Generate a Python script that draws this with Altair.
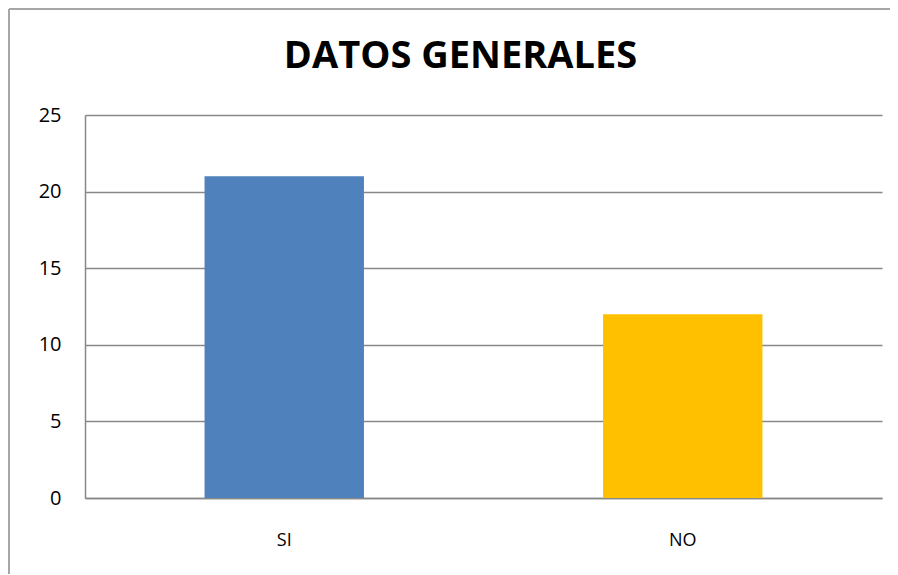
import altair as alt
import pandas as pd

categories = ["SI", "NO"]
values = [21, 12]
colors = ["#4F81BD", "#FFC000"]

df = pd.DataFrame({"cat": categories, "val": values, "color": colors})

W, H = 797, 383
PL, PT, PR, PB = 77, 107, 8, 76

bars = alt.Chart(df).mark_bar().encode(
    x=alt.X("cat:N", sort=categories,
            scale=alt.Scale(paddingInner=0.6, paddingOuter=0.3),
            axis=alt.Axis(title=None, labelAngle=0, ticks=False, domain=True,
                          domainColor="#888888", domainWidth=1.5,
                          labelFont="Open Sans", labelFontSize=18, labelColor="#000000",
                          labelPadding=33)),
    y=alt.Y("val:Q", scale=alt.Scale(domain=[0, 25]),
            axis=alt.Axis(title=None, values=[0, 5, 10, 15, 20, 25], ticks=False,
                          domain=True, domainColor="#888888", domainWidth=1.5,
                          grid=True, gridColor="#888888", gridWidth=1.5,
                          labelFont="Open Sans", labelFontSize=20, labelColor="#000000",
                          labelPadding=24)),
    color=alt.Color("color:N", scale=None),
)

frame_top = alt.Chart(df).mark_rule(stroke="#a6a6a6", strokeWidth=2).encode(
    x=alt.value(-PL + 1), x2=alt.value(W + PR + 20), y=alt.value(-PT + 1),
)
frame_left = alt.Chart(df).mark_rule(stroke="#a6a6a6", strokeWidth=2).encode(
    x=alt.value(-PL + 1), y=alt.value(-PT + 1), y2=alt.value(H + PB + 20),
)

chart = alt.layer(frame_top, frame_left, bars).properties(
    width=W, height=H,
    title=alt.TitleParams("DATOS GENERALES", font="Open Sans", fontSize=38,
                          fontWeight="bold", color="#000000", anchor="middle",
                          baseline="bottom", dx=-23, offset=-106),
    autosize=alt.AutoSizeParams(type="none"),
    padding={"left": PL, "top": PT, "right": PR, "bottom": PB},
).configure(background="white").configure_view(stroke=None, strokeWidth=0)

chart.save("out.html", embed_options={"renderer": "svg", "actions": False})
